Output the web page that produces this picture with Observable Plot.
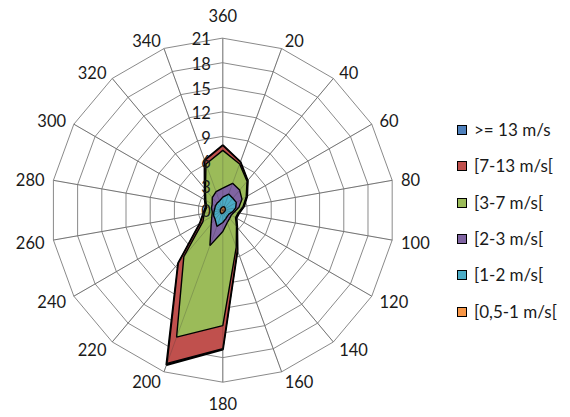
<!DOCTYPE html>
<html><head><meta charset="utf-8">
<script src="https://cdn.jsdelivr.net/npm/d3@7"></script>
<script src="https://cdn.jsdelivr.net/npm/@observablehq/plot@0.6"></script>
<style>
body{margin:0;background:#fff;font-family:Lato,"Open Sans",sans-serif;}
#wrap{position:relative;width:570px;height:417px;}
#legend{position:absolute;left:457px;top:0;}
.item{position:absolute;left:0;white-space:nowrap;font-size:17px;color:#1a1a1a;display:flex;align-items:center;line-height:18px;}
.sw{width:8px;height:8px;border:1.5px solid #000;margin-right:7px;flex:none;}
</style></head><body><div id="wrap"><div id="legend"></div></div>
<script>
const angles = [0,20,40,60,80,100,120,140,160,180,200,220,240,260,280,300,320,340];
const angleLabels = ["360","20","40","60","80","100","120","140","160","180","200","220","240","260","280","300","320","340"];
const rTicks = [0,3,6,9,12,15,18,21];
const seriesNames = [">= 13 m/s","[7-13 m/s[","[3-7 m/s[","[2-3 m/s[","[1-2 m/s[","[0,5-1 m/s["];
const seriesColors = ["#4F81BD","#C0504D","#9BBB59","#8064A2","#4BACC6","#F79646"];
// cumulative frequencies (%) per direction, in the order of `angles`
const vGE13   = [7.92,6.27,4.72,3.42,2.62,2.02,1.92,2.72,5.22,17.0,20.1,8.47,3.22,2.42,2.12,2.52,3.42,6.47];
const v7to13  = [7.9,6.25,4.7,3.4,2.6,2.0,1.9,2.7,5.2,16.9,19.9,8.45,3.2,2.4,2.1,2.5,3.4,6.45];
const v3to7   = [7.3,6.0,4.6,3.3,2.5,1.9,1.8,2.6,4.8,14.1,16.5,7.4,2.8,2.3,2.0,2.4,3.3,6.0];
const v2to3   = [2.7,3.5,3.2,2.7,2.0,1.4,1.2,1.3,1.6,2.6,4.6,2.2,1.55,1.3,1.4,1.5,2.0,2.4];
const v1to2   = [1.6,2.1,1.9,1.9,1.6,1.2,0.9,0.9,1.1,1.5,2.1,1.45,1.3,1.1,1.0,1.05,1.1,1.2];
const v05to1  = [0.4,0.45,0.4,0.35,0.3,0.3,0.25,0.25,0.3,0.35,0.45,0.4,0.35,0.3,0.3,0.3,0.3,0.35];
const seriesValues = [vGE13, v7to13, v3to7, v2to3, v1to2, v05to1];

const rMax = 21;
const rad = a => a * Math.PI / 180;
const px = (r, a) => r * Math.sin(rad(a));
const py = (r, a) => r * Math.cos(rad(a));
const unit = 172 / rMax; // px per value unit

const ringRows = rTicks.filter(t => t > 0).flatMap(t => angles.map(a => ({t, a})));
const idx = angles.map((a, i) => i);

const marks = [
  Plot.line(ringRows, {x: d => px(d.t, d.a), y: d => py(d.t, d.a), z: "t", curve: "linear-closed", stroke: "#8a8a8a", strokeWidth: 1}),
  Plot.link(angles, {x1: () => 0, y1: () => 0, x2: a => px(rMax, a), y2: a => py(rMax, a), stroke: "#8a8a8a", strokeWidth: 1}),
  ...seriesValues.map((vals, s) => Plot.line(idx, {
    x: i => px(vals[i], angles[i]), y: i => py(vals[i], angles[i]),
    curve: "linear-closed", fill: seriesColors[s], stroke: "#000",
    strokeWidth: s === 0 ? 2.2 : 1.4, strokeLinejoin: "miter"
  })),
  Plot.link(angles, {x1: () => 0, y1: () => 0, x2: a => px(rMax, a), y2: a => py(rMax, a), stroke: "#333", strokeOpacity: 0.3, strokeWidth: 0.8}),
  Plot.text(rTicks, {x: () => 0, y: t => t, text: t => String(t), textAnchor: "end", dx: -12, dy: 2, fontSize: 16.5, fill: "#1a1a1a"}),
  Plot.text(idx.filter(i => angles[i] === 0 || angles[i] === 180), {
    x: i => px(rMax + 22 / unit, angles[i]), y: i => py(rMax + 22 / unit, angles[i]),
    text: i => angleLabels[i], dy: 1, fontSize: 16.5, fill: "#1a1a1a"}),
  Plot.text(idx.filter(i => angles[i] > 0 && angles[i] < 180), {
    x: i => px(rMax + 9 / unit, angles[i]), y: i => py(rMax + 9 / unit, angles[i]),
    text: i => angleLabels[i], textAnchor: "start", dy: 2, fontSize: 16.5, fill: "#1a1a1a"}),
  Plot.text(idx.filter(i => angles[i] > 180), {
    x: i => px(rMax + 9 / unit, angles[i]), y: i => py(rMax + 9 / unit, angles[i]),
    text: i => angleLabels[i], textAnchor: "end", dy: 2, fontSize: 16.5, fill: "#1a1a1a"})
];

const chart = Plot.plot({
  width: 570, height: 417,
  x: {domain: [-rMax, rMax], range: [222.3 - 172, 222.3 + 172], axis: null},
  y: {domain: [-rMax, rMax], range: [209.7 + 172, 209.7 - 172], axis: null},
  style: {fontFamily: "Lato, 'Open Sans', sans-serif", background: "#fff"},
  marks
});
document.getElementById("wrap").prepend(chart);

const legend = document.getElementById("legend");
const rowY = [130, 166.3, 202.6, 238.9, 275.2, 311.5];
seriesNames.forEach((name, i) => {
  const it = document.createElement("div");
  it.className = "item";
  it.style.top = (rowY[i] - 9) + "px";
  const sw = document.createElement("span");
  sw.className = "sw";
  sw.style.background = seriesColors[i];
  const tx = document.createElement("span");
  tx.textContent = name;
  it.append(sw, tx);
  legend.append(it);
});
</script></body></html>
